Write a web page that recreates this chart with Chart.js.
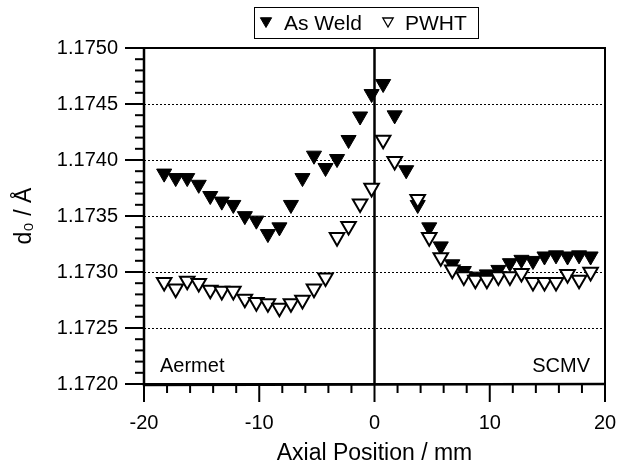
<!DOCTYPE html>
<html><head><meta charset="utf-8">
<script src="https://cdn.jsdelivr.net/npm/chart.js@4.4.1/dist/chart.umd.min.js"></script>
<style>html,body{margin:0;padding:0;background:#fff}#wrap{width:627px;height:465px}</style>
</head><body><div id="wrap"><canvas id="c" width="627" height="465"></canvas></div>
<script>
// ---- data ----
const positions = [-18.25,-17.25,-16.25,-15.25,-14.25,-13.25,-12.25,-11.25,-10.25,-9.25,-8.25,-7.25,-6.25,-5.25,-4.25,-3.25,-2.25,-1.25,-0.25,0.75,1.75,2.75,3.75,4.75,5.75,6.75,7.75,8.75,9.75,10.75,11.75,12.75,13.75,14.75,15.75,16.75,17.75,18.75];
const asWeld = [1.17388,1.17384,1.17384,1.17378,1.17368,1.17363,1.17360,1.17350,1.17346,1.17334,1.17340,1.17360,1.17384,1.17404,1.17393,1.17401,1.17418,1.17439,1.17459,1.17468,1.17440,1.17391,1.17360,1.17340,1.17323,1.17307,1.17301,1.17296,1.17298,1.17302,1.17308,1.17311,1.17310,1.17314,1.17315,1.17314,1.17315,1.17314];
const pwht = [1.17291,1.17285,1.17292,1.17290,1.17284,1.17283,1.17283,1.17276,1.17273,1.17272,1.17268,1.17272,1.17275,1.17285,1.17295,1.17331,1.17341,1.17361,1.17375,1.17418,1.17399,null,1.17365,1.17331,1.17313,1.17302,1.17296,1.17293,1.17293,1.17296,1.17296,1.17299,1.17291,1.17291,1.17291,1.17298,1.17293,1.17300];
const seriesNames = ['As Weld', 'PWHT'];
const xTickLabels = [-20, -10, 0, 10, 20];
const yTickLabels = [1.1720, 1.1725, 1.1730, 1.1735, 1.1740, 1.1745, 1.1750];
const regionLabels = ['Aermet', 'SCMV'];
const xTitle = 'Axial Position / mm';
const yTitle = 'd\u2080 / \u00C5';

const FONT = '"Liberation Sans", Arial, Helvetica, sans-serif';
const xMin = -20, xMax = 20, xMinorStep = 2;
const yMin = 1.1720, yMax = 1.1750, yMinorStep = 0.0001;

function pts(vals) {
  const out = [];
  positions.forEach((x, i) => { if (vals[i] !== null) out.push({x: x, y: vals[i]}); });
  return out;
}

function tri(ctx, cx, cy, r, filled, lw) {
  ctx.beginPath();
  ctx.moveTo(cx - r * 0.866, cy - r * 0.5);
  ctx.lineTo(cx + r * 0.866, cy - r * 0.5);
  ctx.lineTo(cx, cy + r);
  ctx.closePath();
  ctx.fillStyle = filled ? '#000' : '#fff';
  ctx.fill();
  ctx.lineWidth = lw; ctx.strokeStyle = '#000';
  ctx.stroke();
}

const decor = {
  id: 'decor',
  beforeDatasetsDraw(chart) {
    const {ctx, chartArea: a, scales: {x, y}} = chart;
    ctx.save();
    ctx.strokeStyle = '#000';
    ctx.lineWidth = 1;
    ctx.setLineDash([2, 2]);
    yTickLabels.forEach(v => {
      if (v > yMin + 1e-9 && v < yMax - 1e-9) {
        const py = Math.round(y.getPixelForValue(v)) + 0.5;
        ctx.beginPath(); ctx.moveTo(a.left, py); ctx.lineTo(a.right, py); ctx.stroke();
      }
    });
    ctx.setLineDash([]);
    const px0 = x.getPixelForValue(0);
    ctx.lineWidth = 2.5;
    ctx.beginPath(); ctx.moveTo(px0, a.top); ctx.lineTo(px0, a.bottom); ctx.stroke();
    ctx.restore();
  },
  afterDatasetsDraw(chart) {
    const {ctx, chartArea: a, scales: {x, y}} = chart;
    ctx.save();
    ctx.strokeStyle = '#000';
    ctx.lineWidth = 2;
    ctx.strokeRect(a.left, a.top, a.right - a.left, a.bottom - a.top);
    ctx.lineWidth = 2.5;
    ctx.beginPath(); ctx.moveTo(a.left, a.top - 1); ctx.lineTo(a.left, a.bottom + 1); ctx.lineTo(a.right + 1, a.bottom); ctx.stroke();
    ctx.lineWidth = 2;
    for (let v = xMin; v <= xMax + 1e-9; v += xMinorStep) {
      const px = x.getPixelForValue(v);
      const major = xTickLabels.some(t => Math.abs(t - v) < 1e-9);
      ctx.beginPath(); ctx.moveTo(px, a.bottom); ctx.lineTo(px, a.bottom + (major ? 18 : 9)); ctx.stroke();
    }
    for (let k = 0; k <= Math.round((yMax - yMin) / yMinorStep); k++) {
      const v = yMin + k * yMinorStep;
      const py = y.getPixelForValue(v);
      const major = k % 5 === 0;
      ctx.beginPath(); ctx.moveTo(a.left, py); ctx.lineTo(a.left - (major ? 19 : 9), py); ctx.stroke();
    }
    ctx.fillStyle = '#000';
    ctx.font = '20px ' + FONT;
    ctx.textBaseline = 'alphabetic';
    ctx.textAlign = 'left';
    ctx.fillText(regionLabels[0], a.left + 16, a.bottom - 12);
    ctx.textAlign = 'right';
    ctx.fillText(regionLabels[1], a.right - 15, a.bottom - 12);
    ctx.restore();
  },
  afterDraw(chart) {
    const ctx = chart.ctx;
    ctx.save();
    ctx.strokeStyle = '#000'; ctx.lineWidth = 1;
    ctx.strokeRect(254.5, 7.5, 224, 31);
    ctx.font = '21px ' + FONT;
    ctx.textBaseline = 'middle';
    ctx.textAlign = 'left';
    tri(ctx, 266, 21, 6.5, true, 1);
    ctx.fillStyle = '#000';
    ctx.fillText(seriesNames[0], 284, 24);
    tri(ctx, 388, 21, 6, false, 1.3);
    ctx.fillStyle = '#000';
    ctx.fillText(seriesNames[1], 405, 24);
    ctx.restore();
  }
};

new Chart(document.getElementById('c'), {
  type: 'scatter',
  data: {
    datasets: [
      {label: seriesNames[0], data: pts(asWeld), order: 1, showLine: false,
       pointStyle: 'triangle', rotation: 180, pointRadius: 8.7,
       backgroundColor: '#000', borderColor: '#000', borderWidth: 1},
      {label: seriesNames[1], data: pts(pwht), order: 0, showLine: false,
       pointStyle: 'triangle', rotation: 180, pointRadius: 8.4,
       backgroundColor: '#fff', borderColor: '#000', borderWidth: 2}
    ]
  },
  options: {
    responsive: false,
    animation: false,
    events: [],
    layout: {padding: {left: 0, right: 22, top: 48, bottom: 0}},
    plugins: {legend: {display: false}, tooltip: {enabled: false}},
    scales: {
      x: {
        type: 'linear', min: xMin, max: xMax,
        afterBuildTicks: s => { s.ticks = xTickLabels.map(v => ({value: v})); },
        afterFit: s => { s.height = 81; },
        grid: {display: true, drawOnChartArea: false, drawTicks: true, tickLength: 27, color: 'rgba(0,0,0,0)', tickColor: 'rgba(0,0,0,0)'},
        border: {display: false},
        ticks: {padding: 0, color: '#000', font: {family: FONT, size: 20}, callback: v => String(v), maxRotation: 0},
        title: {display: true, text: xTitle, color: '#000', font: {family: FONT, size: 23, lineHeight: 1}, padding: {top: 0, bottom: 0}}
      },
      y: {
        type: 'linear', min: yMin, max: yMax,
        afterBuildTicks: s => { s.ticks = yTickLabels.map(v => ({value: v})); },
        afterFit: s => { s.width = 144; },
        grid: {display: false, drawTicks: false},
        border: {display: false},
        ticks: {padding: 26, color: '#000', font: {family: FONT, size: 20}, callback: v => Number(v).toFixed(4)},
        title: {display: true, text: yTitle, color: '#000', font: {family: FONT, size: 23, lineHeight: 1}, padding: {top: 13, bottom: 0}}
      }
    }
  },
  plugins: [decor]
});
</script>
</body></html>
